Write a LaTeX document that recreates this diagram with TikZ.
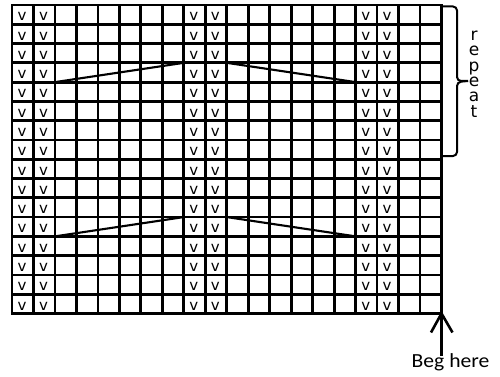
\documentclass[tikz,border=0pt]{standalone}
\usepackage{fontspec}
\setmainfont{DejaVu Sans}
\newfontfamily\begfont{Carlito}
\begin{document}
\begin{tikzpicture}[x=1pt,y=-1pt,
  gridline/.style={line width=2.8pt,line cap=rect},
  diag/.style={line width=2.1pt},
  vmark/.style={anchor=base,inner sep=0pt,font=\fontsize{15}{15}\selectfont},
  bracket/.style={line width=2pt,rounded corners=4pt},
  arrowline/.style={line width=2.6pt}]
\useasboundingbox (0,0) rectangle (500,377);
\def\gx{12}\def\gy{5}\def\cw{21.475}\def\rh{19.28}
% grid
\foreach \i in {0,...,20}{
  \draw[gridline] (\gx+\i*\cw,\gy) -- (\gx+\i*\cw,\gy+16*\rh);
}
\foreach \j in {0,...,16}{
  \draw[gridline] (\gx,\gy+\j*\rh) -- (\gx+20*\cw,\gy+\j*\rh);
}
% v marks
\foreach \c in {0,1,8,9,16,17}{
  \foreach \r in {0,...,15}{
    \node[vmark] (v-\c-\r) at (\gx+\c*\cw+0.47*\cw,\gy+\r*\rh+\rh-3.4) {v};
  }
}
% diagonal lines
\foreach \a/\b in {4/3,12/11}{
  \draw[diag] (\gx+2*\cw,\gy+\a*\rh) -- (\gx+8*\cw,\gy+\b*\rh);
  \draw[diag] (\gx+10*\cw,\gy+\b*\rh) -- (\gx+16*\cw,\gy+\a*\rh);
}
% repeat bracket
\coordinate (btop) at (\gx+20*\cw,6.5);
\coordinate (bbot) at (\gx+20*\cw,156);
\coordinate (btip) at (468,81);
\draw[bracket] (btop) -- (457,6.5) -- (457,81) -- (btip);
\draw[bracket] (btip) -- (457,82) -- (457,156) -- (bbot);
% repeat text
\node[anchor=center,inner sep=0pt,align=center,font=\fontsize{17}{15.4}\selectfont] (rep) at (474,74) {r\\e\\p\\e\\a\\t};
% arrow
\coordinate (gcorner) at (\gx+20*\cw,\gy+16*\rh);
\coordinate (astart) at (\gx+20*\cw,356);
\draw[arrowline] (astart) -- (gcorner);
\draw[arrowline,line join=miter] ([shift={(-10.5,19)}]gcorner) -- (gcorner) -- ([shift={(11,19)}]gcorner);
\node[anchor=base,inner sep=0pt,xscale=1.08,font=\begfont\fontsize{20}{20}\selectfont] (beg) at (450.5,367.5) {Beg here};
\end{tikzpicture}
\end{document}
